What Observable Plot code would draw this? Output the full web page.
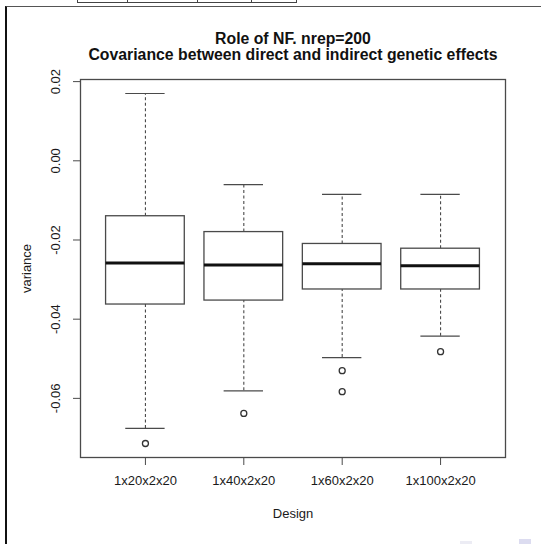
<!DOCTYPE html>
<html>
<head>
<meta charset="utf-8">
<script src="https://cdn.jsdelivr.net/npm/d3@7"></script>
<script src="https://cdn.jsdelivr.net/npm/@observablehq/plot@0.6"></script>
<style>
  html, body { margin: 0; padding: 0; background: #fff; }
  #page { position: relative; width: 541px; height: 544px; overflow: hidden; background: #fff; }
  #chart { position: absolute; left: 0; top: 0; }
  /* outer panel border and the strip of table above it */
  #panel { position: absolute; left: 5px; top: 6px; width: 560px; height: 560px;
           border-top: 1.5px solid #555; border-left: 2px solid #111; }
  #strip { position: absolute; left: 77px; top: -6px; width: 218px; height: 7px;
           border: 1.5px solid #444; display: flex; }
  #strip div { border-right: 1.5px solid #444; height: 100%; }
  .icon { position: absolute; background: #dcdcf0; }
</style>
</head>
<body>
<div id="page">
  <div id="panel"></div>
  <div id="strip"><div style="width:49px"></div><div style="width:69px"></div><div style="width:53px"></div></div>
  <div id="chart"></div>
  <div class="icon" style="left:519px; top:539px; width:12px; height:5px;"></div>
  <div class="icon" style="left:460px; top:541px; width:12px; height:3px; background:#ececf4;"></div>
</div>
<script>
// Covariance between direct and indirect genetic effects, per design (200 replicates)
const designs = ["1x20x2x20", "1x40x2x20", "1x60x2x20", "1x100x2x20"];
const whiskerHigh = [0.0170, -0.0060, -0.0085, -0.0085];
const quartile3   = [-0.0140, -0.0180, -0.0210, -0.0222];
const medians     = [-0.0258, -0.0263, -0.0260, -0.0265];
const quartile1   = [-0.0363, -0.0353, -0.0325, -0.0325];
const whiskerLow  = [-0.0676, -0.0581, -0.0497, -0.0443];

// points beyond the whiskers
const outlierDesign = ["1x20x2x20", "1x40x2x20", "1x60x2x20", "1x60x2x20", "1x100x2x20"];
const outlierValue  = [-0.0714, -0.0638, -0.0530, -0.0583, -0.0482];

const yTicks = [-0.06, -0.04, -0.02, 0.00, 0.02];
const yTickLabels = ["-0.06", "-0.04", "-0.02", "0.00", "0.02"];

const titleLines = ["Role of NF. nrep=200", "Covariance between direct and indirect genetic effects"];

const rows = designs.map((design, i) => ({
  design, pos: i + 1,
  lo: whiskerLow[i], q1: quartile1[i], med: medians[i], q3: quartile3[i], hi: whiskerHigh[i]
}));
const outliers = outlierDesign.map((d, j) => ({pos: designs.indexOf(d) + 1, value: outlierValue[j]}));

// R-style axis limits: data range padded by 4%
const allValues = [...whiskerHigh, ...whiskerLow, ...outlierValue];
const yMin = d3.min(allValues), yMax = d3.max(allValues);
const yPad = (yMax - yMin) * 0.04;
const xPad = designs.length * 0.04;

const ink = "#1a1a1a";
const line = "#4a4a4a";
const font = "'Liberation Sans', Arial, Helvetica, sans-serif";
const dash = "3,2.5";

const chart = Plot.plot({
  width: 541,
  height: 544,
  marginLeft: 80,
  marginRight: 36,
  marginTop: 79,
  marginBottom: 87,
  style: {fontFamily: font, fontSize: "13px", color: ink, background: "transparent"},
  x: {domain: [0.5 - xPad, designs.length + 0.5 + xPad]},
  y: {domain: [yMin - yPad, yMax + yPad]},
  marks: [
    // whiskers
    Plot.ruleX(rows, {x: "pos", y1: "q3", y2: "hi", stroke: line, strokeWidth: 1.1, strokeDasharray: dash}),
    Plot.ruleX(rows, {x: "pos", y1: "lo", y2: "q1", stroke: line, strokeWidth: 1.1, strokeDasharray: dash}),
    Plot.ruleY(rows, {y: "hi", x1: d => d.pos - 0.2, x2: d => d.pos + 0.2, stroke: line, strokeWidth: 1.2}),
    Plot.ruleY(rows, {y: "lo", x1: d => d.pos - 0.2, x2: d => d.pos + 0.2, stroke: line, strokeWidth: 1.2}),
    // boxes and medians
    Plot.rect(rows, {x1: d => d.pos - 0.4, x2: d => d.pos + 0.4, y1: "q1", y2: "q3",
                     fill: "white", stroke: line, strokeWidth: 1.3}),
    Plot.ruleY(rows, {y: "med", x1: d => d.pos - 0.4, x2: d => d.pos + 0.4, stroke: "#111", strokeWidth: 3}),
    // outliers
    Plot.dot(outliers, {x: "pos", y: "value", r: 3, stroke: "#333", strokeWidth: 1.3, fill: "none"}),
    Plot.frame({stroke: line, strokeWidth: 1.3}),
    // axes
    Plot.axisY({ticks: yTicks, tickSize: 7, tickPadding: 14, tickRotate: -90,
                tickFormat: d => yTickLabels[yTicks.indexOf(d)], label: null, stroke: line, fill: ink}),
    Plot.axisX({ticks: designs.map((d, i) => i + 1), tickSize: 8, tickPadding: 10,
                tickFormat: d => designs[d - 1], label: null, stroke: line, fill: ink}),
    Plot.text(["Design"], {text: d => d, frameAnchor: "bottom", dy: 60, lineAnchor: "bottom", fill: ink}),
    Plot.text(["variance"], {text: d => d, frameAnchor: "left", dx: -50, rotate: -90,
                             lineAnchor: "bottom", textAnchor: "middle", fill: ink}),
    // two-line title
    Plot.text([titleLines.join("\n")], {text: d => d, frameAnchor: "top", dy: -19.7, lineAnchor: "bottom",
                                        lineHeight: 1.013, fontWeight: "bold", fontSize: 15.8, fill: "#111"})
  ]
});
document.getElementById("chart").appendChild(chart);
</script>
</body>
</html>
